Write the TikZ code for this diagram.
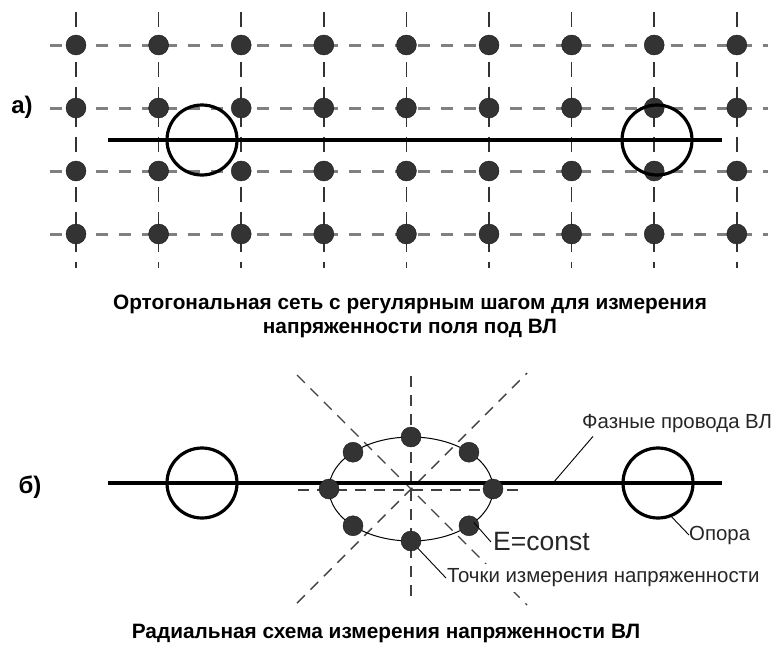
\documentclass[tikz,border=0pt]{standalone}
\usepackage{fontspec}
\setmainfont{Liberation Sans}
\usetikzlibrary{positioning,calc}
\tikzset{
    gridh/.style={draw=black!50, line width=3pt, dash pattern=on 12pt off 11pt},
    gridv/.style={draw=black!80, line width=1.6pt, dash pattern=on 15pt off 10pt},
    ray/.style={draw=black!75, line width=1.4pt, dash pattern=on 11pt off 8pt},
    dot/.style={circle, fill=black!80, draw=black!90, inner sep=0pt, minimum size=20pt},
    pole/.style={circle, draw, line width=3.2pt, inner sep=0pt, minimum size=70pt},
    wire/.style={line width=3.5pt},
    caption/.style={font=\bfseries\fontsize{20.8}{24}\selectfont, align=center},
    panel/.style={font=\bfseries\fontsize{24}{26}\selectfont},
    tag/.style={font=\fontsize{20.4}{22}\selectfont, text=black!85, inner sep=0pt}
}

\begin{document}
\begin{tikzpicture}[x=1pt, y=-1pt]
    \useasboundingbox (0,0) rectangle (773,645);
    % a) grid
    \foreach \i in {0,...,8}
        \draw[gridv] (76+82.6*\i,12) -- (76+82.6*\i,268);
    \foreach \y in {45,108,171,234}
        \draw[gridh] (50,\y) -- (768,\y);
    \foreach \i in {0,...,8}
        \foreach \j/\y in {0/45,1/108,2/171,3/234}
            \node[dot] (g-\i-\j) at (76+82.6*\i,\y) {};
    \node[pole] (3c7e91a0) at (202,140) {};
    \node[pole] (b84f02d6) at (657,140) {};
    \coordinate (e15a7c33) at (108,140);
    \coordinate (f2093bd8) at (722,140);
    \draw[wire] (e15a7c33) -- (f2093bd8);
    \node[panel] (9a6d4e21) at (22,107) {а)};
    \node[caption] (c5b3a817) at (410,316)
        {Ортогональная сеть с регулярным шагом для измерения\\напряженности поля под ВЛ};

    % b) radial scheme
    \coordinate (7d2e6f90) at (411,489);
    \draw[ray] (298,490) -- (523,490);
    \draw[ray] (411,376) -- (411,604);
    \draw[ray] (297,375) -- (527,605);
    \draw[ray] (297,603) -- (527,373);
    \draw[line width=1pt] (7d2e6f90) ellipse [x radius=82, y radius=52];
    \node[pole] (5e8c1f4b) at (202,483) {};
    \node[pole] (a0d97e35) at (658,483) {};
    \coordinate (41b6c2ea) at (108,483);
    \coordinate (d3f8a019) at (722,483);
    \draw[wire] (41b6c2ea) -- (d3f8a019);
    \foreach \a in {0,45,...,315}
        \node[dot] (r-\a) at ($(7d2e6f90)+(\a:82 and 52)$) {};
    \node[panel] (6b1e9d42) at (30,487) {б)};

    % labels
    \node[tag, anchor=west] (8f4a2c07) at (582,424) {Фазные провода ВЛ};
    \coordinate (12c9e7b5) at (553,483);
    \draw[line width=0.9pt] (12c9e7b5) -- ([xshift=11pt,yshift=-3pt]8f4a2c07.south west);
    \node[tag, anchor=west] (e27b5d60) at (689,535) {Опора};
    \draw[line width=0.9pt] (a0d97e35.-68) -- (e27b5d60.west);
    \node[font=\fontsize{26.5}{28}\selectfont, text=black!85, inner sep=0pt, anchor=west] (0c4fa8e2) at (493,542) {E=const};
    \coordinate (b5d1e63f) at ($(7d2e6f90)+(40:82 and 52)$);
    \draw[line width=0.9pt] (b5d1e63f) -- ([xshift=-2pt]0c4fa8e2.west);
    \node[tag, anchor=west, fill=white, inner ysep=5pt] (f6e03a9c) at (447,578) {Точки измерения напряженности};
    \draw[line width=0.9pt] (r-90) -- ([xshift=-1pt]f6e03a9c.west);
    \node[caption] (2a7c5d18) at (386,633) {Радиальная схема измерения напряженности ВЛ};
\end{tikzpicture}
\end{document}
